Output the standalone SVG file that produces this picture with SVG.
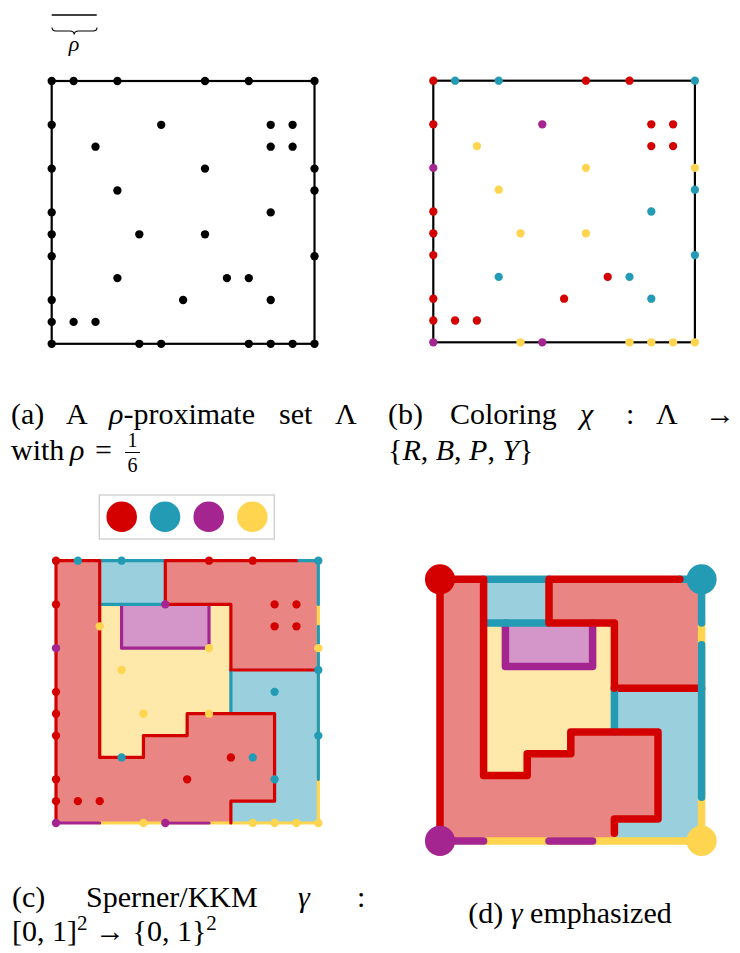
<svg xmlns="http://www.w3.org/2000/svg" xmlns:xlink="http://www.w3.org/1999/xlink" width="740" height="953" viewBox="0 0 740 953">
<style>
text{font-family:"Liberation Serif","Times New Roman",serif;font-size:30px;fill:#000}
.it{font-style:italic}
.frac{font-size:20px}
.sup{font-size:21px}
.ln{fill:none;stroke-linecap:round;stroke-linejoin:round}
</style>
<defs>
<g id="pR">
<circle cx="0" cy="0" r="0.19"/><circle cx="7" cy="0" r="0.19"/><circle cx="9" cy="0" r="0.19"/>
<circle cx="0" cy="2" r="0.19"/><circle cx="10" cy="2" r="0.19"/><circle cx="11" cy="2" r="0.19"/>
<circle cx="10" cy="3" r="0.19"/><circle cx="11" cy="3" r="0.19"/>
<circle cx="0" cy="6" r="0.19"/><circle cx="0" cy="7" r="0.19"/><circle cx="0" cy="8" r="0.19"/>
<circle cx="8" cy="9" r="0.19"/><circle cx="0" cy="10" r="0.19"/><circle cx="6" cy="10" r="0.19"/>
<circle cx="0" cy="11" r="0.19"/><circle cx="1" cy="11" r="0.19"/><circle cx="2" cy="11" r="0.19"/>
</g>
<g id="pB">
<circle cx="1" cy="0" r="0.19"/><circle cx="3" cy="0" r="0.19"/><circle cx="12" cy="0" r="0.19"/>
<circle cx="12" cy="5" r="0.19"/><circle cx="10" cy="6" r="0.19"/><circle cx="12" cy="8" r="0.19"/>
<circle cx="3" cy="9" r="0.19"/><circle cx="9" cy="9" r="0.19"/><circle cx="10" cy="10" r="0.19"/>
</g>
<g id="pP">
<circle cx="5" cy="2" r="0.19"/><circle cx="0" cy="4" r="0.19"/><circle cx="0" cy="12" r="0.19"/><circle cx="5" cy="12" r="0.19"/>
</g>
<g id="pY">
<circle cx="2" cy="3" r="0.19"/><circle cx="7" cy="4" r="0.19"/><circle cx="12" cy="4" r="0.19"/>
<circle cx="3" cy="5" r="0.19"/><circle cx="4" cy="7" r="0.19"/><circle cx="7" cy="7" r="0.19"/>
<circle cx="4" cy="12" r="0.19"/><circle cx="9" cy="12" r="0.19"/><circle cx="10" cy="12" r="0.19"/>
<circle cx="11" cy="12" r="0.19"/><circle cx="12" cy="12" r="0.19"/>
</g>
<g id="fills">
<rect x="0" y="0" width="12" height="12" fill="#E98582"/>
<rect x="2" y="0" width="3" height="2" fill="#9AD0DD"/>
<polygon points="2,2 8,2 8,7 6,7 6,8 4,8 4,9 2,9" fill="#FFE9AA"/>
<rect x="3" y="2" width="4" height="2" fill="#D496C8"/>
<polygon points="8,5 12,5 12,12 8,12 8,11 10,11 10,7 8,7" fill="#9AD0DD"/>
</g>
</defs>
<rect width="740" height="953" fill="#fff"/>

<g id="rho-scale">
<line x1="51.7" y1="15" x2="96.7" y2="15" stroke="#000" stroke-width="1.5"/>
<path d="M52,27.5 C52,30 53.5,31 56,31 L70,31 C72.5,31 74,32 74.2,34.5 C74.4,32 75.9,31 78.4,31 L93,31 C95.5,31 97,30 97,27.5" fill="none" stroke="#000" stroke-width="1.1"/>
<text x="74" y="51" text-anchor="middle" class="it" style="font-size:22px">ρ</text>
</g>

<g id="panel-a" transform="translate(51.7,81) scale(21.9)">
<rect x="0" y="0" width="12" height="12" fill="none" stroke="#000" stroke-width="0.1"/>
<use xlink:href="#pR" fill="#000"/><use xlink:href="#pB" fill="#000"/><use xlink:href="#pP" fill="#000"/><use xlink:href="#pY" fill="#000"/>
</g>

<g id="panel-b" transform="translate(433.3,80.7) scale(21.8)">
<rect x="0" y="0" width="12" height="12" fill="none" stroke="#000" stroke-width="0.1"/>
<use xlink:href="#pR" fill="#D40000"/><use xlink:href="#pB" fill="#249BB5"/><use xlink:href="#pP" fill="#A42490"/><use xlink:href="#pY" fill="#FFD54F"/>
</g>

<g id="legend">
<rect x="99.3" y="495" width="175" height="44" fill="#fff" stroke="#CCCCCC" stroke-width="1.3"/>
<circle cx="121.7" cy="516.7" r="15.3" fill="#D40000"/>
<circle cx="165" cy="516.7" r="15.3" fill="#249BB5"/>
<circle cx="208.7" cy="516.7" r="15.3" fill="#A42490"/>
<circle cx="252.3" cy="516.7" r="15.3" fill="#FFD54F"/>
</g>

<g id="panel-c" transform="translate(56,560.7) scale(21.86)">
<use xlink:href="#fills"/>
<g class="ln" stroke-width="0.146">
<path d="M12,2V12H2" stroke="#FFD54F"/>
<path d="M0,12H2 M5,12H7 M3,2V4H7V2" stroke="#A42490"/>
<path d="M8,5H12" stroke="#D40000"/>
<path d="M2,0H5 M2,2H5 M11,0H12V2 M12,3V10 M8,5V7" stroke="#249BB5"/>
<path d="M0,0V12 M0,0H2V9H4V8H6V7H10V11H8V12 M11,0H5V2H8V5" stroke="#D40000"/>
</g>
<use xlink:href="#pR" fill="#D40000"/><use xlink:href="#pB" fill="#249BB5"/><use xlink:href="#pP" fill="#A42490"/><use xlink:href="#pY" fill="#FFD54F"/>
</g>

<g id="panel-d" transform="translate(440,579.3) scale(21.8)">
<use xlink:href="#fills"/>
<g class="ln" stroke-width="0.344">
<path d="M12,2V12H2" stroke="#FFD54F"/>
<path d="M0,12H2 M5,12H7 M3,2V4H7V2" stroke="#A42490"/>
<path d="M8,5H12" stroke="#D40000"/>
<path d="M2,0H5 M2,2H5 M11,0H12V2 M12,3V10 M8,5V7" stroke="#249BB5"/>
<path d="M0,0V12 M0,0H2V9H4V8H6V7H10V11H8V11.65 M11,0H5V2H8V5" stroke="#D40000"/>
</g>
<circle cx="0" cy="0" r="0.69" fill="#D40000"/>
<circle cx="12" cy="0" r="0.69" fill="#249BB5"/>
<circle cx="0" cy="12" r="0.69" fill="#A42490"/>
<circle cx="12" cy="12" r="0.69" fill="#FFD54F"/>
</g>

<g id="caption-a">
<text x="11" y="424">(a)</text>
<text x="66" y="424">A</text>
<text x="109" y="424"><tspan class="it">ρ</tspan>-proximate</text>
<text x="279" y="424">set</text>
<text x="335" y="424">Λ</text>
<text x="11" y="460">with</text>
<text x="70" y="460" class="it">ρ</text>
<text x="95" y="460">=</text>
<text x="132.5" y="447" class="frac" text-anchor="middle">1</text>
<line x1="125" y1="452.5" x2="140" y2="452.5" stroke="#000" stroke-width="1"/>
<text x="132.5" y="472" class="frac" text-anchor="middle">6</text>
</g>

<g id="caption-b">
<text x="388" y="424">(b)</text>
<text x="450" y="424">Coloring</text>
<text x="580" y="424" class="it">χ</text>
<text x="626" y="424">:</text>
<text x="656" y="424">Λ</text>
<text x="705" y="424">→</text>
<text x="388" y="460">{<tspan class="it">R</tspan>, <tspan class="it">B</tspan>, <tspan class="it">P</tspan>, <tspan class="it">Y</tspan>}</text>
</g>

<g id="caption-c">
<text x="12" y="907">(c)</text>
<text x="86" y="907">Sperner/KKM</text>
<text x="298" y="907" class="it">γ</text>
<text x="357" y="907">:</text>
<text x="12" y="941">[0, 1]<tspan class="sup" dy="-11">2</tspan><tspan dy="11"> → {0, 1}</tspan><tspan class="sup" dy="-11">2</tspan></text>
</g>

<g id="caption-d">
<text x="570" y="923" text-anchor="middle">(d) <tspan class="it">γ</tspan> emphasized</text>
</g>
</svg>
